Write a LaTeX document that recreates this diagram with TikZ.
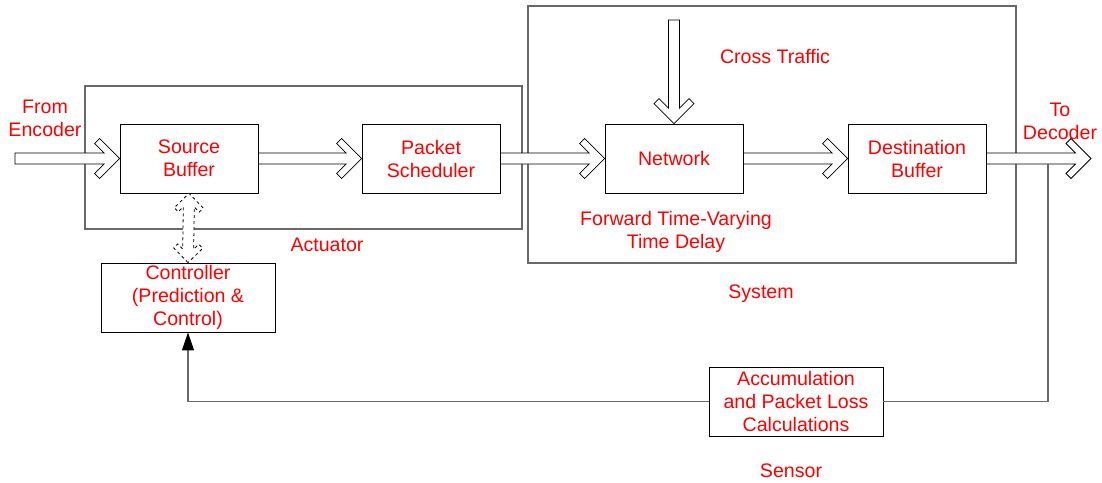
\documentclass[tikz,border=0pt]{standalone}
\usepackage{fontspec}
\setmainfont{Liberation Sans}
\usepackage{tikz}
\usetikzlibrary{arrows.meta,calc}
\usepackage{xcolor}
\definecolor{txtred}{RGB}{255,0,0}
\definecolor{framegray}{RGB}{105,105,105}
\tikzstyle{block} = [draw=black, line width=0.8pt, minimum width=138pt, minimum height=69pt, inner sep=0pt, align=center, text=txtred, font=\fontsize{19.6}{23}\selectfont]
\tikzstyle{wideblock} = [block, minimum width=174pt]
\tikzstyle{redtext} = [align=center, text=txtred, inner sep=0pt, font=\fontsize{19.6}{23}\selectfont]
\tikzstyle{frame} = [draw=framegray, line width=1.3pt]
\tikzstyle{wire} = [draw=framegray, line width=1.3pt]
\tikzstyle{fat} = [draw=black, fill=white, line width=0.8pt, line join=miter]

% length and direction between two points, used by the hollow arrows
\makeatletter
\newcommand{\fatgeom}[2]{%
  \path (#1) coordinate (fa-s) (#2) coordinate (fa-t);
  \pgfmathanglebetweenpoints{\pgfpointanchor{fa-s}{center}}{\pgfpointanchor{fa-t}{center}}%
  \let\faang\pgfmathresult
  \pgfpointdiff{\pgfpointanchor{fa-s}{center}}{\pgfpointanchor{fa-t}{center}}%
  \edef\fadx{\the\pgf@x}\edef\fady{\the\pgf@y}%
  \pgfmathveclen{\fadx}{\fady}%
  \let\falen\pgfmathresult}
\makeatother

% hollow arrow with an open chevron head
\newcommand{\fatarrow}[3][]{%
  \fatgeom{#2}{#3}%
  \begin{scope}[shift={(fa-t)}, rotate=\faang]
    \draw[fat,#1] (-\falen,-5.5) -- (-15.5,-5.5) -- (-25,-15) -- (-20,-20) -- (0,0)
      -- (-20,20) -- (-25,15) -- (-15.5,5.5) -- (-\falen,5.5) -- cycle;
  \end{scope}}

% same, with a head at both ends
\newcommand{\fatdarrow}[3][]{%
  \fatgeom{#2}{#3}%
  \begin{scope}[shift={(fa-t)}, rotate=\faang]
    \draw[fat,#1] (0,0) -- (-14.5,14.5) -- (-18.5,10.5) -- (-13.5,5.5)
      -- ({-\falen+13.5},5.5) -- ({-\falen+18.5},10.5) -- ({-\falen+14.5},14.5) -- (-\falen,0)
      -- ({-\falen+14.5},-14.5) -- ({-\falen+18.5},-10.5) -- ({-\falen+13.5},-5.5)
      -- (-13.5,-5.5) -- (-18.5,-10.5) -- (-14.5,-14.5) -- cycle;
  \end{scope}}

\begin{document}
\begin{tikzpicture}[x=1pt, y=-1pt]
\useasboundingbox (0,0) rectangle (1102,482);

% actuator and system frames
\draw[frame] (85,86) rectangle (522,229);
\draw[frame] (528,6) rectangle (1016,263);

% blocks
\node[block] (sb) at (189,158.5) {Source\\Buffer};
\node[block] (ps) at (431,158.5) {Packet\\Scheduler};
\node[block] (net) at (674,158.5) {Network};
\node[block] (db) at (917,158.5) {Destination\\Buffer};
\node[wideblock] (ctrl) at (188,297.5) {Controller\\(Prediction \&\\Control)};
\node[wideblock] (acc) at (796,401.5) {Accumulation\\and Packet Loss\\Calculations};

% free ends of the data path
\coordinate (enc) at (15,158.5);
\coordinate (dec) at (1091,158.5);
\coordinate (ct) at (674,20);
\coordinate (tap) at (1048,164);

% data path
\fatarrow{enc}{sb.west}
\fatarrow{sb.east}{ps.west}
\fatarrow{ps.east}{net.west}
\fatarrow{net.east}{db.west}
\fatarrow{db.east}{dec}
\fatarrow{ct}{net.north}
\fatdarrow[dashed]{sb.south}{ctrl.north}

% feedback loop
\draw[wire] (tap) |- (acc.east);
\draw[wire, -{Triangle[length=18pt, width=12pt, color=black]}] (acc.west) -| (ctrl.south);

% labels
\node[redtext] (lblenc) at (45,118) {From\\Encoder};
\node[redtext] (lbldec) at (1060,121) {To\\Decoder};
\node[redtext] (lblct) at (775,56) {Cross Traffic};
\node[redtext] (lblact) at (327,245) {Actuator};
\node[redtext] (lblfwd) at (676,232) {Forward Time-Varying\\Time Delay};
\node[redtext] (lblsys) at (761,294) {System};
\node[redtext] (lblsen) at (791,471) {Sensor};
\end{tikzpicture}
\end{document}
